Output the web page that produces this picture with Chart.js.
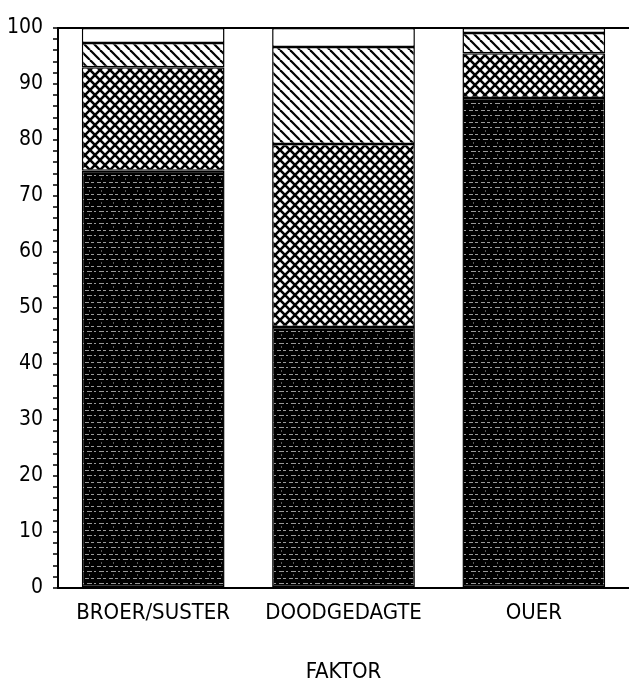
<!DOCTYPE html>
<html>
<head>
<meta charset="utf-8">
<script src="https://cdn.jsdelivr.net/npm/chart.js@4.4.0/dist/chart.umd.min.js"></script>
<style>
  html, body { margin: 0; padding: 0; background: #fff; }
  #wrap { width: 629px; height: 682px; }
</style>
</head>
<body>
<div id="wrap"><canvas id="chart" width="629" height="682"></canvas></div>
<script>
// categories and stacked percentages (bottom -> top)
var categories = ['BROER/SUSTER', 'DOODGEDAGTE', 'OUER'];
var dark_data  = [74.5, 46.6, 87.5];
var cross_data = [18.5, 32.7, 8.0];
var hatch_data = [4.3, 17.3, 3.6];
var white_data = [2.7, 3.4, 0.9];
var y_ticks = [0, 10, 20, 30, 40, 50, 60, 70, 80, 90, 100];

var FONT = "'DejaVu Sans Condensed', 'DejaVu Sans', sans-serif";

//patterns
function makePattern(size, draw) {
  var c = document.createElement('canvas');
  c.width = size; c.height = size;
  var g = c.getContext('2d');
  draw(g, size);
  return g.createPattern(c, 'repeat');
}

var darkPattern = makePattern(12, function(g, s) {
  g.fillStyle = '#000';
  g.fillRect(0, 0, s, s);
  g.fillStyle = 'rgba(255,255,255,0.6)';
  g.fillRect(1, 2, 4, 1);
  g.fillRect(7, 2, 3, 1);
  g.fillRect(3, 7, 5, 1);
  g.fillRect(10, 7, 2, 1);
  g.fillStyle = 'rgba(255,255,255,0.35)';
  g.fillRect(5, 10, 1, 2);
});

var crossPattern = makePattern(10, function(g, s) {
  g.fillStyle = '#fff';
  g.fillRect(0, 0, s, s);
  g.strokeStyle = '#000';
  g.lineWidth = 2.6;
  for (var k = -1; k <= 1; k++) {
    g.beginPath();
    g.moveTo(k * s, 0); g.lineTo(k * s + s, s);
    g.moveTo(k * s, s); g.lineTo(k * s + s, 0);
    g.stroke();
  }
});

var hatchPattern = makePattern(10, function(g, s) {
  g.fillStyle = '#fff';
  g.fillRect(0, 0, s, s);
  g.strokeStyle = '#000';
  g.lineWidth = 2.2;
  for (var k = -1; k <= 1; k++) {
    g.beginPath();
    g.moveTo(k * s, 0); g.lineTo(k * s + s, s);
    g.stroke();
  }
});

var datasets = [
  {label: 'dark', data: dark_data, backgroundColor: darkPattern},
  {label: 'cross', data: cross_data, backgroundColor: crossPattern},
  {label: 'hatch', data: hatch_data, backgroundColor: hatchPattern},
  {label: 'white', data: white_data, backgroundColor: '#fff'}
].map(function(d) {
  d.borderColor = '#000';
  d.borderWidth = 1.5;
  d.borderSkipped = false;
  d.barPercentage = 0.75;
  d.categoryPercentage = 1.0;
  return d;
});

new Chart(document.getElementById('chart'), {
  type: 'bar',
  data: {
    labels: categories,
    datasets: datasets
  },
  options: {
    responsive: false,
    animation: false,
    layout: { padding: { top: 28, right: 0, left: 0, bottom: 0 } },
    plugins: {
      legend: { display: false },
      tooltip: { enabled: false }
    },
    scales: {
      x: {
        stacked: true,
        grid: { display: false, drawTicks: false },
        border: { display: true, color: '#000', width: 2 },
        ticks: {
          color: '#000',
          padding: 12,
          font: { family: FONT, size: 22, weight: 'condensed' }
        },
        title: {
          display: true,
          text: 'FAKTOR',
          color: '#000',
          padding: { top: 0, bottom: 0 },
          font: { family: FONT, size: 22, weight: 'condensed', lineHeight: 0.9 }
        },
        afterFit: function(scale) { scale.height = 94; }
      },
      y: {
        stacked: true,
        min: 0,
        max: 100,
        afterBuildTicks: function(scale) {
          var t = [];
          for (var v = 0; v <= 100; v += 2) t.push({value: v});
          scale.ticks = t;
        },
        grid: {
          drawOnChartArea: true,
          color: function(ctx) {
            return ctx.tick && ctx.tick.value === 100 ? '#000' : 'rgba(0,0,0,0)';
          },
          lineWidth: 2,
          tickColor: '#000',
          tickLength: 5,
          tickWidth: 1.5
        },
        border: { display: true, color: '#000', width: 2 },
        ticks: {
          color: '#000',
          autoSkip: false,
          padding: 10,
          font: { family: FONT, size: 21, weight: 'condensed' },
          callback: function(v) {
            return y_ticks.indexOf(v) >= 0 ? String(v) : '';
          }
        },
        afterFit: function(scale) { scale.width = 58; }
      }
    }
  }
});
</script>
</body>
</html>
